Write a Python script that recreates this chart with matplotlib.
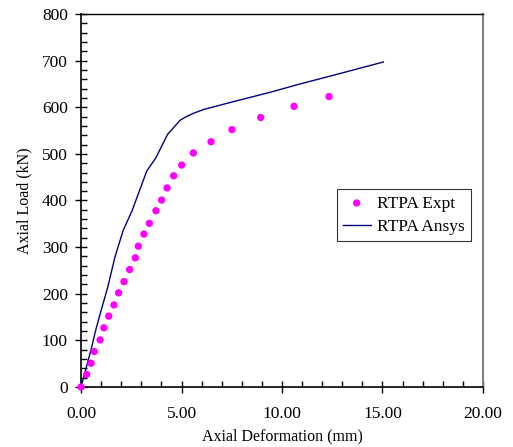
import matplotlib
matplotlib.use('Agg')
import matplotlib.pyplot as plt
from matplotlib.ticker import MultipleLocator, FormatStrFormatter

# Datos experimentales (deformación en mm, carga en kN)
expt_x = [0.0, 0.28, 0.50, 0.66, 0.95, 1.14, 1.38, 1.64, 1.87, 2.14, 2.42, 2.70,
          2.85, 3.13, 3.40, 3.73, 4.01, 4.28, 4.61, 5.01, 5.59, 6.47, 7.51, 8.94,
          10.60, 12.34]
expt_y = [0, 27, 51, 76, 101, 127, 152, 176, 202, 226, 252, 277,
          302, 328, 351, 378, 401, 427, 453, 476, 502, 526, 552, 578,
          602, 623]

# Resultado Ansys
ansys_x = [0.0, 0.25, 0.5, 0.75, 1.0, 1.33, 1.69, 2.1, 2.55, 2.9, 3.27, 3.73,
           4.31, 4.93, 5.2, 5.59, 6.09, 7.58, 9.4, 10.9, 12.5, 15.04]
ansys_y = [0, 40, 80, 125, 164, 214, 279, 336, 379, 420, 463, 492,
           542, 572, 579, 587, 595, 612, 632, 650, 668, 697]

plt.rcParams['font.family'] = ['Liberation Serif', 'DejaVu Serif']

fig = plt.figure(figsize=(5.13, 4.47), dpi=100)
ax = fig.add_axes([81 / 513, 1 - 387 / 447, 402 / 513, 373 / 447])

ax.plot(ansys_x, ansys_y, color='#000080', lw=1.0, label='RTPA Ansys', zorder=2)
ax.scatter(expt_x, expt_y, s=28, color='#ff00ff', edgecolors='none',
           label='RTPA Expt', zorder=3, clip_on=False)

ax.set_xlim(0, 20)
ax.set_ylim(0, 800)
ax.xaxis.set_major_locator(MultipleLocator(5))
ax.xaxis.set_minor_locator(MultipleLocator(1))
ax.yaxis.set_major_locator(MultipleLocator(100))
ax.yaxis.set_minor_locator(MultipleLocator(20))
ax.xaxis.set_major_formatter(FormatStrFormatter('%.2f'))
ax.xaxis.set_ticks_position('bottom')
ax.yaxis.set_ticks_position('left')

ax.tick_params(which='major', direction='inout', length=9, width=1, labelsize=12.5)
ax.tick_params(axis='x', which='major', pad=9)
ax.tick_params(axis='y', which='major', pad=5)
ax.tick_params(which='minor', direction='in', length=4, width=1)

ax.spines['left'].set_linewidth(1.2)
ax.spines['bottom'].set_linewidth(1.2)
ax.spines['top'].set_linewidth(1.0)
ax.spines['right'].set_color('#808080')
ax.spines['right'].set_linewidth(1.5)

ax.set_xlabel('Axial Deformation (mm)', fontsize=11.5, labelpad=5)
ax.set_ylabel('Axial Load (kN)', fontsize=11.5, labelpad=7)

handles, labels = ax.get_legend_handles_labels()
leg = ax.legend([handles[1], handles[0]], [labels[1], labels[0]],
                loc='upper left', bbox_to_anchor=(0.636, 0.53),
                fontsize=12.5, frameon=True, fancybox=False,
                edgecolor='black', handlelength=1.6, borderpad=0.35,
                labelspacing=0.4, handletextpad=0.4, borderaxespad=0)
leg.get_frame().set_linewidth(0.8)

fig.savefig('out.png', dpi=100)
